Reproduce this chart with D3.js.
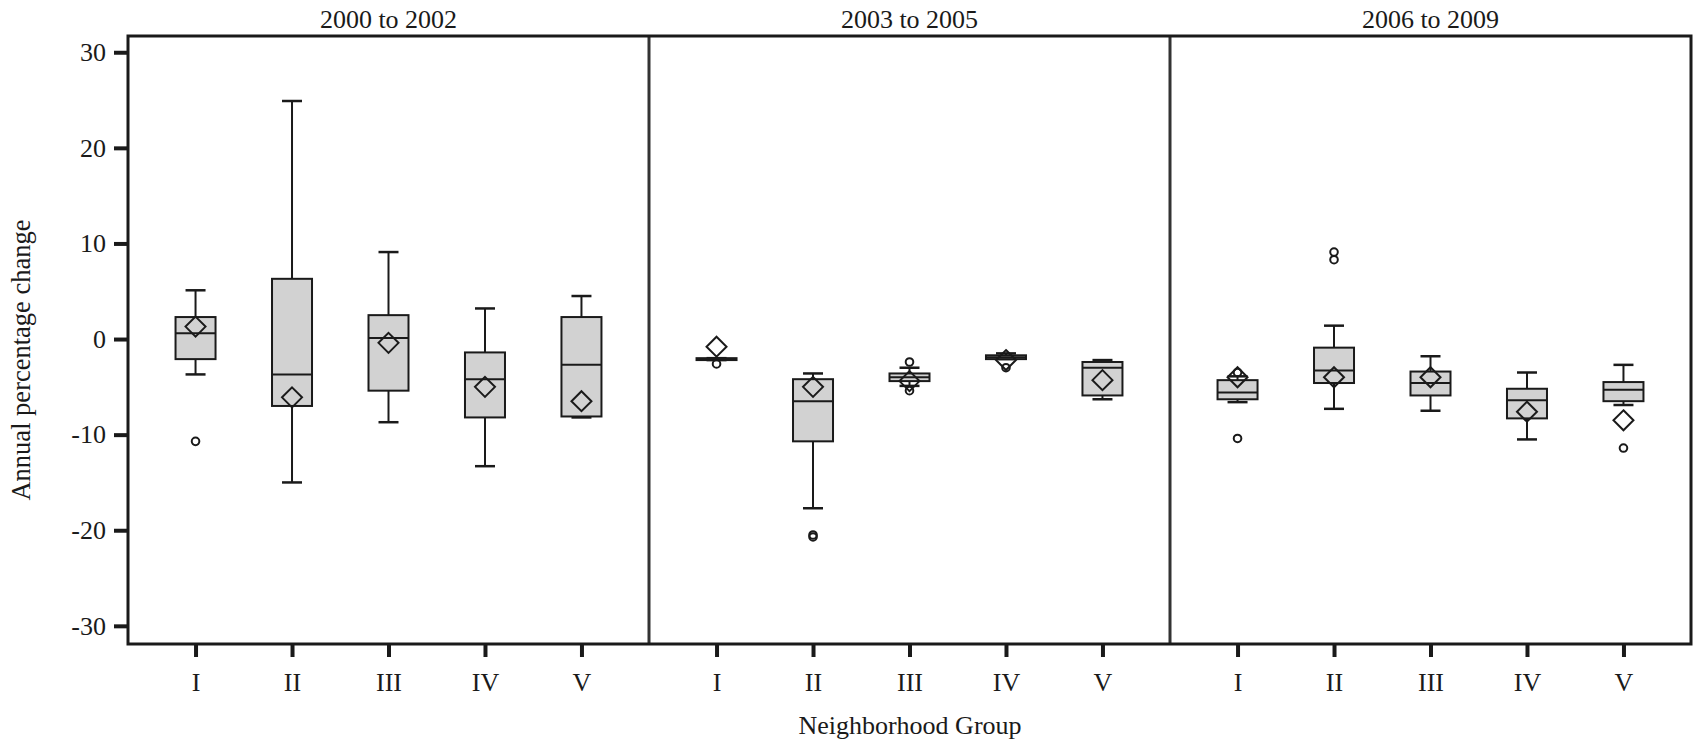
<!DOCTYPE html>
<html>
<head>
<meta charset="utf-8">
<script src="https://cdn.jsdelivr.net/npm/d3@7"></script>
<style>
  body { margin: 0; background: #fff; }
  text { font-family: "Liberation Serif", "DejaVu Serif", serif; fill: #1a1a1a; }
</style>
</head>
<body>
<svg id="chart" width="1697" height="743"></svg>
<script>
// panels and groups
const periods = ["2000 to 2002", "2003 to 2005", "2006 to 2009"];
const groups = ["I", "II", "III", "IV", "V"];
const yTicks = [-30, -20, -10, 0, 10, 20, 30];

// box statistics, one row per period, one value per group
const whiskerHigh = [
  [5.1, 24.9, 9.1, 3.2, 4.5],
  [-2.0, -3.6, -3.0, -1.5, -2.2],
  [-3.9, 1.4, -1.8, -3.5, -2.7]
];
const q3 = [
  [2.3, 6.3, 2.5, -1.4, 2.3],
  [-2.0, -4.2, -3.6, -1.7, -2.4],
  [-4.3, -0.9, -3.4, -5.2, -4.5]
];
const median = [
  [0.6, -3.7, 0.1, -4.2, -2.7],
  [-2.1, -6.5, -4.0, -1.9, -3.0],
  [-5.6, -3.3, -4.6, -6.4, -5.3]
];
const q1 = [
  [-2.1, -7.0, -5.4, -8.2, -8.1],
  [-2.2, -10.7, -4.4, -2.1, -5.9],
  [-6.3, -4.6, -5.9, -8.3, -6.5]
];
const whiskerLow = [
  [-3.7, -15.0, -8.7, -13.3, -8.2],
  [-2.2, -17.7, -4.9, -2.1, -6.3],
  [-6.6, -7.3, -7.5, -10.5, -6.9]
];
const means = [
  [1.3, -6.1, -0.4, -5.0, -6.5],
  [-0.8, -5.0, -4.4, -2.2, -4.3],
  [-4.0, -4.0, -4.0, -7.6, -8.5]
];
const outliers = [
  [[-10.7], [], [], [], []],
  [[-2.6], [-20.5, -20.7], [-2.4, -5.4], [-3.0], []],
  [[-3.5, -10.4], [8.3, 9.1], [], [], [-11.4]]
];

let svg = d3.select('#chart');
let pLeft = 128, pRight = 1691, pTop = 36, pBottom = 644;
let ink = '#1a1a1a';
let fs = 26;

let y = d3.scaleLinear()
  .domain([-31.9, 31.7])
  .range([pBottom, pTop]);

let px = d3.scaleBand()
  .domain(periods)
  .range([pLeft, pRight]);

let boxW = 40, capW = 20, dia = 10;

periods.forEach(function(p, pi){
  let x0 = px(p);
  let x = d3.scalePoint()
    .domain(groups)
    .range([x0, x0 + px.bandwidth()])
    .padding(0.7);

  let rows = groups.map((g, i) => ({
    g: g,
    hi: whiskerHigh[pi][i], q3: q3[pi][i], med: median[pi][i],
    q1: q1[pi][i], lo: whiskerLow[pi][i], mean: means[pi][i],
    out: outliers[pi][i]
  }));

  let gp = svg.append('g');

  // whiskers
  gp.selectAll('.wh').data(rows).enter().append('line')
    .attr('x1', d => x(d.g)).attr('x2', d => x(d.g))
    .attr('y1', d => y(d.hi)).attr('y2', d => y(d.lo))
    .attr('stroke', ink).attr('stroke-width', 2);

  gp.selectAll('.capHi').data(rows).enter().append('line')
    .attr('x1', d => x(d.g) - capW/2).attr('x2', d => x(d.g) + capW/2)
    .attr('y1', d => y(d.hi)).attr('y2', d => y(d.hi))
    .attr('stroke', ink).attr('stroke-width', 2.5);

  gp.selectAll('.capLo').data(rows).enter().append('line')
    .attr('x1', d => x(d.g) - capW/2).attr('x2', d => x(d.g) + capW/2)
    .attr('y1', d => y(d.lo)).attr('y2', d => y(d.lo))
    .attr('stroke', ink).attr('stroke-width', 2.5);

  // boxes
  gp.selectAll('.box').data(rows).enter().append('rect')
    .attr('x', d => x(d.g) - boxW/2)
    .attr('y', d => y(d.q3))
    .attr('width', boxW)
    .attr('height', d => Math.max(1, y(d.q1) - y(d.q3)))
    .attr('fill', '#d2d2d2')
    .attr('stroke', ink).attr('stroke-width', 2);

  gp.selectAll('.med').data(rows).enter().append('line')
    .attr('x1', d => x(d.g) - boxW/2).attr('x2', d => x(d.g) + boxW/2)
    .attr('y1', d => y(d.med)).attr('y2', d => y(d.med))
    .attr('stroke', ink).attr('stroke-width', 2);

  // means
  gp.selectAll('.mean').data(rows).enter().append('path')
    .attr('d', d => {
      let cx = x(d.g), cy = y(d.mean);
      return `M${cx},${cy-dia}L${cx+dia},${cy}L${cx},${cy+dia}L${cx-dia},${cy}Z`;
    })
    .attr('fill', 'none')
    .attr('stroke', ink).attr('stroke-width', 2);

  // outliers
  let outs = rows.flatMap(d => d.out.map(v => ({g: d.g, v: v})));
  gp.selectAll('.out').data(outs).enter().append('circle')
    .attr('cx', d => x(d.g)).attr('cy', d => y(d.v))
    .attr('r', 3.8)
    .attr('fill', 'none')
    .attr('stroke', ink).attr('stroke-width', 2);

  // x axis ticks for this panel
  let xa = svg.append('g')
    .attr('transform', `translate(0,${pBottom})`)
    .call(d3.axisBottom(x).tickSize(13).tickPadding(16));
  xa.select('.domain').remove();
  xa.selectAll('line').attr('stroke', ink).attr('stroke-width', 4);
  xa.selectAll('text').attr('font-size', fs).attr('fill', ink)
    .style('font-family', '"Liberation Serif", serif');

  // panel title
  svg.append('text')
    .attr('x', x0 + px.bandwidth()/2)
    .attr('y', 28)
    .attr('text-anchor', 'middle')
    .attr('font-size', fs)
    .text(p);

  // divider
  if (pi > 0) {
    svg.append('line')
      .attr('x1', x0).attr('x2', x0)
      .attr('y1', pTop).attr('y2', pBottom)
      .attr('stroke', '#333').attr('stroke-width', 3);
  }
});

// frame
svg.append('rect')
  .attr('x', pLeft).attr('y', pTop)
  .attr('width', pRight - pLeft).attr('height', pBottom - pTop)
  .attr('fill', 'none')
  .attr('stroke', ink).attr('stroke-width', 3);

// y axis
let ya = svg.append('g')
  .attr('transform', `translate(${pLeft - 1},0)`)
  .call(d3.axisLeft(y).tickValues(yTicks).tickFormat(d => String(d))
    .tickSize(13).tickPadding(8));
ya.select('.domain').remove();
ya.selectAll('line').attr('stroke', ink).attr('stroke-width', 4);
ya.selectAll('text').attr('font-size', fs).attr('fill', ink)
  .style('font-family', '"Liberation Serif", serif');

// axis titles
svg.append('text')
  .attr('transform', `translate(30,360) rotate(-90)`)
  .attr('text-anchor', 'middle')
  .attr('font-size', 26.5)
  .text('Annual percentage change');

svg.append('text')
  .attr('x', 910)
  .attr('y', 734)
  .attr('text-anchor', 'middle')
  .attr('font-size', 26)
  .text('Neighborhood Group');
</script>
</body>
</html>
